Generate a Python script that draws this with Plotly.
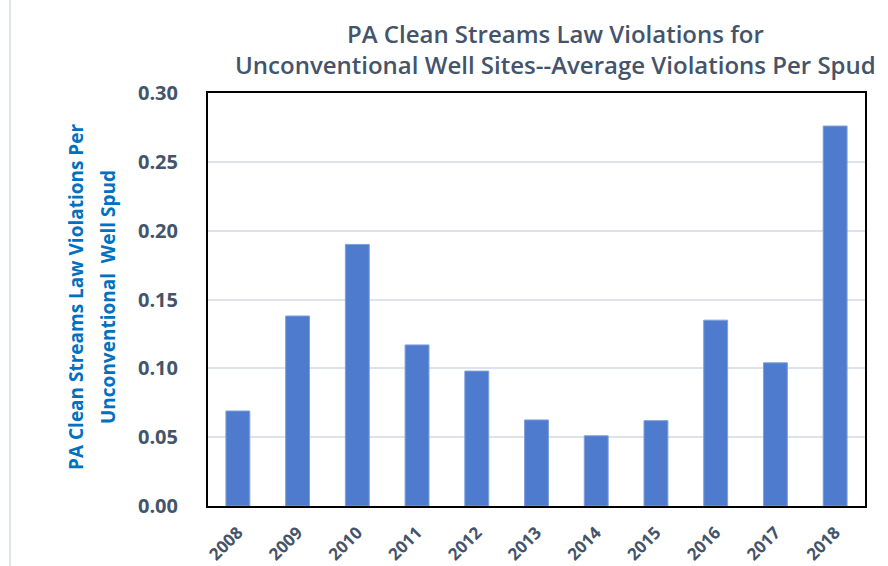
import plotly.graph_objects as go

years = ["2008", "2009", "2010", "2011", "2012", "2013", "2014", "2015", "2016", "2017", "2018"]
violations_per_spud = [0.069, 0.138, 0.190, 0.117, 0.098, 0.0625, 0.051, 0.062, 0.135, 0.104, 0.276]
y_ticks = [0.0, 0.05, 0.10, 0.15, 0.20, 0.25, 0.30]

W, H = 888, 566
ML, MR, MT, MB = 208, 23, 93, 60
PW = W - ML - MR
PH = H - MT - MB

def px_to_paper_x(px):
    return (px - ML) / PW

def px_to_paper_y(py):
    return (H - MB - py) / PH

fig = go.Figure()
fig.add_trace(go.Bar(
    x=years, y=violations_per_spud,
    marker=dict(color="#4e7bcd", line=dict(color="#7d9fdc", width=1)),
    width=0.4,
))

ytitle_font = dict(family="Open Sans", size=19, color="#0070c0", weight="bold")

fig.update_layout(
    width=W, height=H,
    margin=dict(l=ML, r=MR, t=MT, b=MB),
    paper_bgcolor="white", plot_bgcolor="white",
    showlegend=False,
    xaxis=dict(
        type="category", tickangle=-45, automargin=False,
        tickfont=dict(family="Open Sans", size=17, color="#44546a", weight="bold"),
        showline=True, linecolor="black", linewidth=2, mirror=True,
        showgrid=False, ticks="", ticklabelstandoff=8,
    ),
    yaxis=dict(
        range=[0, 0.30], tickvals=y_ticks, tickformat=".2f", automargin=False,
        tickfont=dict(family="Open Sans", size=20, color="#44546a", weight="bold"),
        showline=True, linecolor="black", linewidth=2, mirror=True,
        showgrid=True, gridcolor="#dde3ea", gridwidth=1.5, zeroline=False,
        ticks="", ticklabelstandoff=24,
    ),
    annotations=[
        dict(
            text="PA Clean Streams Law Violations for<br>Unconventional Well Sites--Average Violations Per Spud",
            xref="paper", yref="paper", x=px_to_paper_x(555), y=px_to_paper_y(49),
            xanchor="center", yanchor="middle", showarrow=False,
            font=dict(family="Open Sans", size=24, color="#44546a", weight=600),
        ),
        dict(
            text="PA Clean Streams Law Violations Per",
            xref="paper", yref="paper", x=px_to_paper_x(76), y=px_to_paper_y(297),
            xanchor="center", yanchor="middle", showarrow=False, textangle=-90,
            font=ytitle_font,
        ),
        dict(
            text="Unconventional  Well Spud",
            xref="paper", yref="paper", x=px_to_paper_x(108), y=px_to_paper_y(297),
            xanchor="center", yanchor="middle", showarrow=False, textangle=-90,
            font=ytitle_font,
        ),
    ],
    shapes=[
        dict(type="line", xref="paper", yref="paper",
             x0=px_to_paper_x(10), x1=px_to_paper_x(10), y0=px_to_paper_y(0), y1=px_to_paper_y(566),
             line=dict(color="#dde3ea", width=2)),
    ],
)

fig.write_html("out.html", config={"displayModeBar": False},
               post_script="document.body.style.margin='0';document.body.style.overflow='hidden';")
